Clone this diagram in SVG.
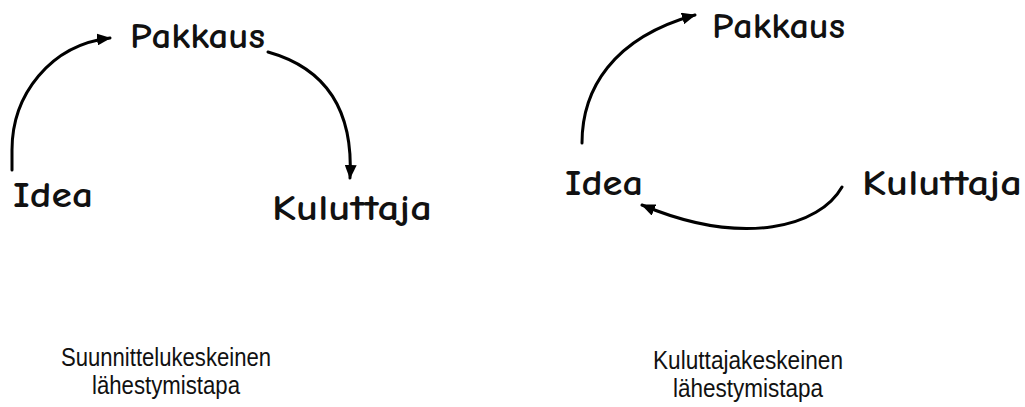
<svg xmlns="http://www.w3.org/2000/svg" width="1025" height="407" viewBox="0 0 1025 407">
  <style>
    .hand { font-family: "Comic Sans MS", "Comic Neue", "Noto Sans", "DejaVu Sans", sans-serif; font-size: 36px; font-weight: bold; fill: #111; }
    .cap { font-family: "Liberation Sans", Arial, sans-serif; font-size: 26px; fill: #111; text-anchor: middle; }
    .conn { fill: none; stroke: #000; stroke-width: 3; stroke-linecap: round; marker-end: url(#arrow); }
  </style>
  <defs>
    <marker id="arrow" markerUnits="userSpaceOnUse" markerWidth="14" markerHeight="12" refX="13" refY="6" orient="auto">
      <path d="M0,0 L14,6 L0,12 z" fill="#000"/>
    </marker>
  </defs>
  <rect width="1025" height="407" fill="#fff"/>

  <g id="connectors">
    <path class="conn" d="M12,170 L12,150 C12,95 50,45 110,38"/>
    <path class="conn" d="M268,52 C318,66 354,102 350,178"/>
    <path class="conn" d="M582,143 C582,90 612,38 695,15"/>
    <path class="conn" d="M842,187 C820,226 745,248 642,205"/>
  </g>

  <g id="left-pakkaus"><text class="hand" x="130" y="48" textLength="135" lengthAdjust="spacingAndGlyphs">Pakkaus</text></g>
  <g id="left-idea"><text class="hand" x="13" y="207" textLength="80" lengthAdjust="spacingAndGlyphs">Idea</text></g>
  <g id="left-kuluttaja"><text class="hand" x="272" y="220" textLength="160" lengthAdjust="spacingAndGlyphs">Kuluttaja</text></g>

  <g id="right-pakkaus"><text class="hand" x="712" y="38" textLength="133" lengthAdjust="spacingAndGlyphs">Pakkaus</text></g>
  <g id="right-idea"><text class="hand" x="565" y="195" textLength="78" lengthAdjust="spacingAndGlyphs">Idea</text></g>
  <g id="right-kuluttaja"><text class="hand" x="862" y="195" textLength="160" lengthAdjust="spacingAndGlyphs">Kuluttaja</text></g>

  <g id="left-caption">
    <text class="cap" x="166" y="366" textLength="210" lengthAdjust="spacingAndGlyphs">Suunnittelukeskeinen</text>
    <text class="cap" x="166" y="394" textLength="148" lengthAdjust="spacingAndGlyphs">lähestymistapa</text>
  </g>
  <g id="right-caption">
    <text class="cap" x="748" y="369" textLength="190" lengthAdjust="spacingAndGlyphs">Kuluttajakeskeinen</text>
    <text class="cap" x="748" y="397" textLength="150" lengthAdjust="spacingAndGlyphs">lähestymistapa</text>
  </g>
</svg>
